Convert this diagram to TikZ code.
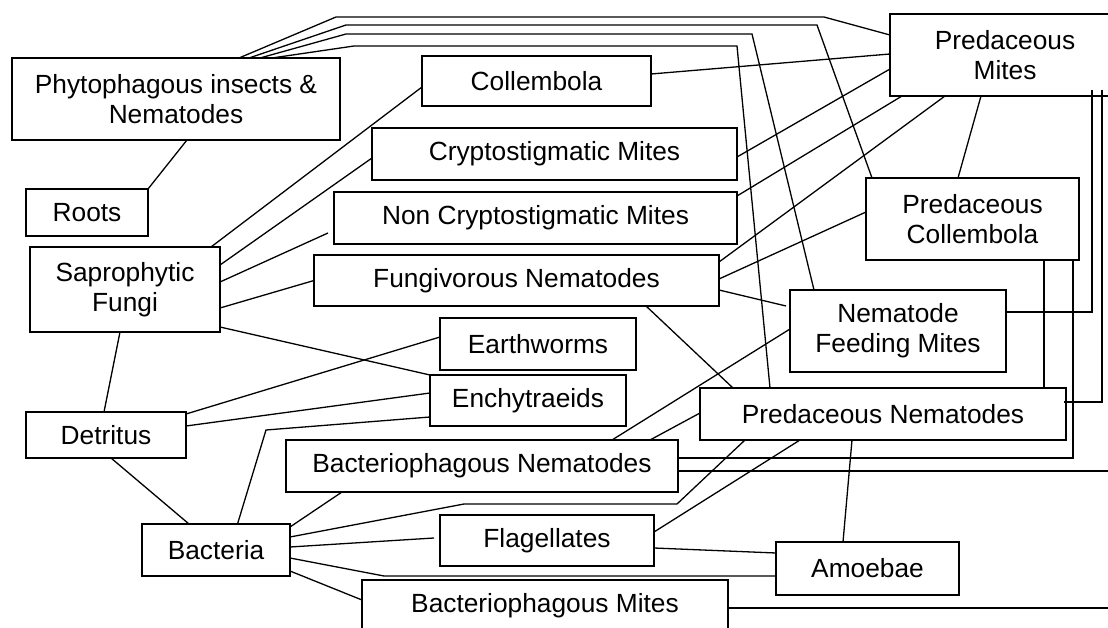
\documentclass[tikz,border=0pt]{standalone}
\usepackage{fontspec}
\setmainfont{Liberation Sans}
\newcommand{\boxfont}{\fontsize{26.3}{30}\selectfont}

\begin{document}
\begin{tikzpicture}[x=1pt, y=-1pt, line width=1.3pt,
    box/.style={draw, rectangle, inner sep=0pt, outer sep=0pt, align=center, font=\boxfont}]
    \useasboundingbox (0,0) rectangle (1108,628);
    \clip (0,0) rectangle (1108,628);

    \node[box, minimum width=328pt, minimum height=82pt] (phyto) at (176,99) {Phytophagous insects \&\\Nematodes};
    \node[box, minimum width=122pt, minimum height=47pt] (roots) at (87,212.5) {Roots};
    \node[box, minimum width=190pt, minimum height=85pt] (sfungi) at (125,289.5) {Saprophytic\\Fungi};
    \node[box, minimum width=229pt, minimum height=50pt] (coll) at (536.5,81) {Collembola};
    \node[box, minimum width=365pt, minimum height=52pt] (crypto) at (554.5,154) {Cryptostigmatic Mites};
    \node[box, minimum width=403pt, minimum height=52pt] (noncrypto) at (535.5,218) {Non Cryptostigmatic Mites};
    \node[box, minimum width=405pt, minimum height=51pt] (fungnem) at (516.5,280.5) {Fungivorous Nematodes};
    \node[box, minimum width=230pt, minimum height=82pt] (predmites) at (1005,55) {Predaceous\\Mites};
    \node[box, minimum width=213pt, minimum height=82pt] (predcoll) at (972.5,219) {Predaceous\\Collembola};
    \node[box, minimum width=216pt, minimum height=82pt] (nfm) at (898,331) {Nematode\\Feeding Mites};
    \node[box, minimum width=366pt, minimum height=52pt] (prednem) at (883,414) {Predaceous Nematodes};
    \node[box, minimum width=196pt, minimum height=52pt] (earth) at (538,344) {Earthworms};
    \node[box, minimum width=196pt, minimum height=51pt] (ench) at (528,400.5) {Enchytraeids};
    \node[box, minimum width=160pt, minimum height=46pt] (detritus) at (106,435) {Detritus};
    \node[box, minimum width=392pt, minimum height=52pt] (bactnem) at (482,466) {Bacteriophagous Nematodes};
    \node[box, minimum width=148pt, minimum height=52pt] (bacteria) at (216,550) {Bacteria};
    \node[box, minimum width=214pt, minimum height=51pt] (flag) at (547,540.5) {Flagellates};
    \node[box, minimum width=183pt, minimum height=53pt] (amoebae) at (867.5,568.5) {Amoebae};
    \node[box, minimum width=366pt, minimum height=52pt] (bactmites) at (545,606) {Bacteriophagous Mites};
    \coordinate (rimbn) at (1110,471);
    \coordinate (rimbm) at (1110,608);

    \draw ([xshift=63pt]phyto.north) -- (336,17) -- (824,17) -- ([yshift=20pt]predmites.west);
    \draw ([xshift=73pt]phyto.north) -- (346,25) -- (817,25) -- ([xshift=6pt]predcoll.north west);
    \draw ([xshift=84pt]phyto.north) -- (346,34) -- (752,34) -- ([xshift=24pt]nfm.north west);
    \draw ([xshift=96pt]phyto.north) -- (354,46) -- (737,46) -- ([xshift=70pt]prednem.north west);
    \draw (roots.north east) -- ([xshift=11pt]phyto.south);

    \draw ([yshift=-6pt]coll.west) -- ([xshift=-9pt]sfungi.north east);
    \draw ([yshift=-4pt]crypto.west) -- ([yshift=24.5pt]sfungi.east);
    \draw ([xshift=-6pt,yshift=-15pt]noncrypto.west) -- ([yshift=7.5pt]sfungi.east);
    \draw (fungnem.west) -- ([yshift=-18.5pt]sfungi.east);
    \draw ([yshift=5pt]sfungi.south east) -- (ench.north west);
    \draw ([xshift=-5pt]sfungi.south) -- ([xshift=-2pt]detritus.north);

    \draw ([yshift=-2pt]detritus.north east) -- ([yshift=7pt]earth.west);
    \draw ([yshift=9pt]detritus.east) -- ([yshift=7.5pt]ench.west);
    \draw ([xshift=5pt]detritus.south) -- ([xshift=-27pt]bacteria.north);

    \draw ([xshift=21.5pt]bacteria.north) -- (266,430) -- ([yshift=-16.5pt]ench.west);
    \draw ([yshift=-3pt]bacteria.north east) -- ([xshift=-140pt]bactnem.south);
    \draw ([yshift=13pt]bacteria.east) -- (464,504) -- (677,504) -- ([xshift=-138pt]prednem.south);
    \draw ([yshift=3pt]bacteria.east) -- ([xshift=-6pt,yshift=2.5pt]flag.west);
    \draw ([yshift=-8pt]bacteria.east) -- (384,576) -- ([yshift=-7.5pt]amoebae.west);
    \draw ([yshift=5pt]bacteria.south east) -- ([yshift=6pt]bactmites.west);

    \draw ([yshift=8.5pt]flag.east) -- ([xshift=-83pt]prednem.south);
    \draw ([yshift=-7.5pt]flag.east) -- ([yshift=15.5pt]amoebae.west);
    \draw ([xshift=-24.5pt]amoebae.north) -- ([xshift=-31pt]prednem.south);

    \draw ([xshift=130pt]bactnem.north) -- ([yshift=2pt]nfm.west);
    \draw ([xshift=168pt]bactnem.north) -- ([yshift=1pt]prednem.west);
    \draw ([yshift=8pt]bactnem.east) -| ([xshift=-6pt]predcoll.south east);
    \draw ([yshift=-5pt]bactnem.east) -- (rimbn);
    \draw ([yshift=-2pt]bactmites.east) -- (rimbm);

    \draw ([xshift=71.5pt]predcoll.south) -- ([xshift=161pt]prednem.north);
    \draw ([yshift=19pt]nfm.east) -| ([xshift=87pt,yshift=6pt]predmites.south);
    \draw ([xshift=-2pt,yshift=12pt]prednem.east) -| ([xshift=97pt,yshift=6pt]predmites.south);

    \draw ([yshift=7pt]coll.east) -- ([yshift=1pt]predmites.west);
    \draw ([yshift=-3pt]crypto.east) -- ([yshift=-14pt]predmites.west);
    \draw ([yshift=22pt]noncrypto.east) -- ([xshift=12pt]predmites.south west);
    \draw ([yshift=18.5pt]fungnem.east) -- ([xshift=55pt]predmites.south west);
    \draw ([yshift=1.5pt]fungnem.east) -- ([yshift=7pt]predcoll.west);
    \draw ([yshift=-9.5pt]fungnem.east) -- ([xshift=-4pt,yshift=25pt]nfm.west);
    \draw ([xshift=-24pt]predmites.south) -- ([xshift=-14.5pt]predcoll.north);
    \draw ([xshift=129.5pt]fungnem.south) -- ([xshift=33pt]prednem.north west);
\end{tikzpicture}
\end{document}
